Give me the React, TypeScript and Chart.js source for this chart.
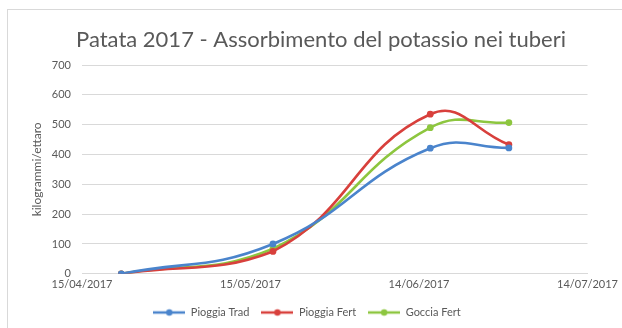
import React, { useEffect, useRef } from "react";
import { Chart, registerables } from "chart.js";

Chart.register(...registerables);

const title = "Patata 2017 - Assorbimento del potassio nei tuberi";
const yTitle = "kilogrammi/ettaro";
const sampleDates = ["2017-04-22", "2017-05-19", "2017-06-16", "2017-06-30"];
const seriesNames = ["Pioggia Trad", "Pioggia Fert", "Goccia Fert"];
const pioggiaTrad = [0, 100, 421, 422];
const pioggiaFert = [0, 75, 535, 433];
const gocciaFert = [0, 84, 490, 507];
const seriesColors = ["#4A84CC", "#D8403C", "#8DC63F"];
const xMinDate = "2017-04-15";
const xMaxDate = "2017-07-14";
const xStepDays = 30;
const yMin = 0;
const yMax = 700;
const yStep = 100;

const DAY = 86400000;
const toTs = (s: string) => {
  const [y, m, d] = s.split("-").map(Number);
  return Date.UTC(y, m - 1, d);
};
const fmt = (ts: number) => {
  const d = new Date(ts);
  const dd = String(d.getUTCDate()).padStart(2, "0");
  const mm = String(d.getUTCMonth() + 1).padStart(2, "0");
  return `${dd}/${mm}/${d.getUTCFullYear()}`;
};

function legendIcon(color: string) {
  const c = document.createElement("canvas");
  c.width = 32;
  c.height = 10;
  const ctx = c.getContext("2d")!;
  ctx.strokeStyle = color;
  ctx.lineWidth = 2.5;
  ctx.beginPath();
  ctx.moveTo(0, 5);
  ctx.lineTo(32, 5);
  ctx.stroke();
  ctx.fillStyle = color;
  ctx.beginPath();
  ctx.arc(16, 5, 3.2, 0, Math.PI * 2);
  ctx.fill();
  return c;
}

export default function App() {
  const ref = useRef<HTMLCanvasElement>(null);
  useEffect(() => {
    const values = [pioggiaTrad, pioggiaFert, gocciaFert];
    const xs = sampleDates.map(toTs);
    const font = "Lato, 'Open Sans', sans-serif";
    const titlePlugin = {
      id: "offsetTitle",
      afterDraw(ch: any) {
        const ctx = ch.ctx;
        ctx.save();
        ctx.fillStyle = "#595959";
        ctx.font = `normal 22px ${font}`;
        ctx.textAlign = "center";
        ctx.textBaseline = "middle";
        ctx.fillText(title, 321, 40);
        ctx.restore();
      },
    };
    const chart = new Chart(ref.current!, {
      type: "line",
      data: {
        datasets: seriesNames.map((name, i) => ({
          label: name,
          data: xs.map((x, j) => ({ x, y: values[i][j] })),
          borderColor: seriesColors[i],
          backgroundColor: seriesColors[i],
          borderWidth: 2.6,
          pointRadius: 3.4,
          pointHoverRadius: 3.4,
          pointBorderWidth: 0,
          pointStyle: "circle",
          tension: 0.45,
        })),
      },
      plugins: [titlePlugin],
      options: {
        animation: false,
        responsive: false,
        devicePixelRatio: 1,
        layout: { padding: { left: 26, right: 34, top: 65, bottom: 0 } },
        plugins: {
          title: { display: false },
          legend: {
            position: "bottom",
            labels: {
              usePointStyle: true,
              pointStyleWidth: 32,
              color: "#595959",
              font: { family: font, size: 11 },
              padding: 12,
              boxHeight: 10,
              generateLabels: (ch: any) =>
                ch.data.datasets.map((ds: any, i: number) => ({
                  text: ds.label,
                  fillStyle: ds.borderColor,
                  strokeStyle: ds.borderColor,
                  lineWidth: 0,
                  pointStyle: legendIcon(seriesColors[i]),
                  datasetIndex: i,
                  hidden: false,
                  fontColor: "#595959",
                })),
            },
          },
          tooltip: { enabled: false },
        },
        scales: {
          x: {
            type: "linear",
            min: toTs(xMinDate),
            max: toTs(xMaxDate),
            afterBuildTicks: (scale: any) => {
              const t: any[] = [];
              for (let v = toTs(xMinDate); v <= toTs(xMaxDate); v += xStepDays * DAY) t.push({ value: v });
              scale.ticks = t;
            },
            ticks: {
              callback: (v: any) => fmt(Number(v)),
              color: "#595959",
              font: { family: font, size: 11 },
              maxRotation: 0,
              autoSkip: false,
              padding: 4,
            },
            grid: { display: false, drawTicks: false },
            border: { display: true, color: "#D9D9D9", width: 1 },
          },
          y: {
            min: yMin,
            max: yMax,
            afterFit: (scale: any) => {
              scale.width = 56;
            },
            ticks: {
              stepSize: yStep,
              color: "#595959",
              font: { family: font, size: 11 },
              padding: 11,
            },
            grid: { color: "#D9D9D9", drawTicks: false },
            border: { display: false },
            title: {
              display: true,
              text: yTitle,
              color: "#595959",
              font: { family: font, size: 12 },
              padding: 4,
            },
          },
        },
      },
    });
    return () => chart.destroy();
  }, []);
  return (
    <div style={{ position: "fixed", left: 0, top: 0, width: 622, height: 328, background: "#fff", overflow: "hidden" }}>
      <div
        style={{
          position: "absolute",
          left: 7,
          top: 9,
          width: 640,
          height: 340,
          border: "1px solid #D9D9D9",
          boxSizing: "border-box",
        }}
      />
      <canvas ref={ref} width={622} height={328} style={{ position: "absolute", left: 0, top: 0 }} />
    </div>
  );
}
